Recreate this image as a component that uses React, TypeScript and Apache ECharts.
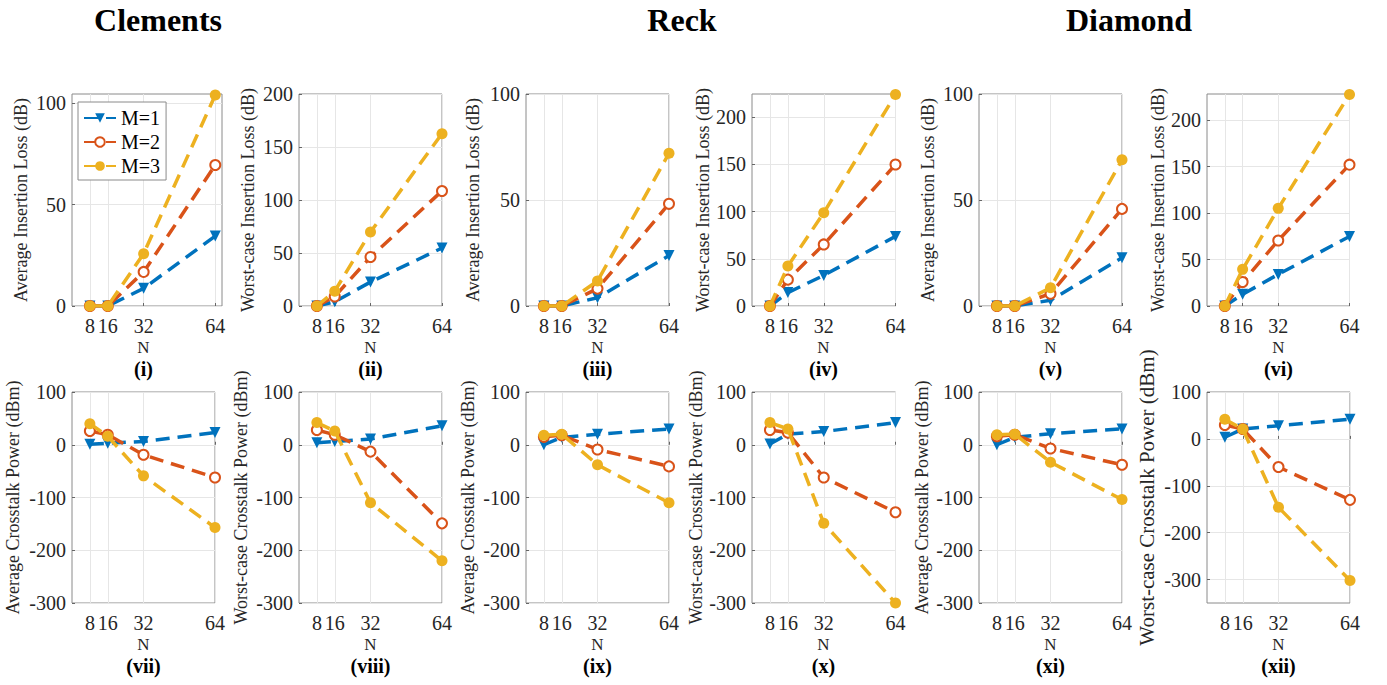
import React, { useEffect, useRef } from 'react';
import * as echarts from 'echarts';

const FONT = 'Liberation Serif';

const N = [8, 16, 32, 64];
const seriesNames = ['M=1', 'M=2', 'M=3'];
const colors = ['#0072BD', '#D95319', '#EDB120'];
const columnTitles = ['Clements', 'Reck', 'Diamond'];

// Top row: insertion loss (dB)
const clementsAvgIL_M1 = [0, 0, 8.7, 34.5];
const clementsAvgIL_M2 = [0, 0, 16.8, 69.5];
const clementsAvgIL_M3 = [0, 0, 25.8, 104];

const clementsWcIL_M1 = [0, 4, 22.6, 54.7];
const clementsWcIL_M2 = [0, 9, 46.2, 108.5];
const clementsWcIL_M3 = [0, 14, 69.8, 162.6];

const reckAvgIL_M1 = [0, 0, 3.9, 23.8];
const reckAvgIL_M2 = [0, 0, 8.2, 48.2];
const reckAvgIL_M3 = [0, 0, 11.8, 72];

const reckWcIL_M1 = [0, 14.2, 32.4, 73.7];
const reckWcIL_M2 = [0, 27.9, 65.2, 149.8];
const reckWcIL_M3 = [0, 42.3, 98.7, 224];

const diamondAvgIL_M1 = [0, 0, 2.7, 22.8];
const diamondAvgIL_M2 = [0, 0, 5.8, 45.8];
const diamondAvgIL_M3 = [0, 0, 8.6, 69];

const diamondWcIL_M1 = [0, 12.6, 34, 74.8];
const diamondWcIL_M2 = [0, 25.8, 70.5, 152];
const diamondWcIL_M3 = [0, 39.4, 105, 227.5];

// Bottom row: crosstalk power (dBm)
const clementsAvgXT_M1 = [1, 3, 6, 23];
const clementsAvgXT_M2 = [26, 19, -19, -62];
const clementsAvgXT_M3 = [40, 16, -59, -157];

const clementsWcXT_M1 = [4, 6, 11, 36];
const clementsWcXT_M2 = [28, 19, -13, -149];
const clementsWcXT_M3 = [42, 26, -110, -220];

const reckAvgXT_M1 = [0, 14, 20, 30];
const reckAvgXT_M2 = [15, 18, -9, -41];
const reckAvgXT_M3 = [18, 20, -38, -110];

const reckWcXT_M1 = [1.5, 20, 25, 42];
const reckWcXT_M2 = [28, 23, -62, -128];
const reckWcXT_M3 = [42, 30, -149, -300];

const diamondAvgXT_M1 = [0, 14, 21, 30];
const diamondAvgXT_M2 = [16, 19, -7, -38];
const diamondAvgXT_M3 = [19, 20, -33, -104];

const diamondWcXT_M1 = [3.5, 21, 28, 42];
const diamondWcXT_M2 = [29.5, 21, -60, -130];
const diamondWcXT_M3 = [42, 21, -146, -302];

const avgILTicks = [0, 50, 100];
const wcILTicks = [0, 50, 100, 150, 200];
const xtTicks = [-300, -200, -100, 0, 100];

const panels = [
  { label: '(i)', yName: 'Average Insertion Loss (dB)', data: [clementsAvgIL_M1, clementsAvgIL_M2, clementsAvgIL_M3], yMin: 0, yMax: 104.5, ticks: avgILTicks, left: 72, top: 94, width: 150, height: 212, xMax: 67, nameGap: 42 },
  { label: '(ii)', yName: 'Worst-case Insertion Loss (dB)', data: [clementsWcIL_M1, clementsWcIL_M2, clementsWcIL_M3], yMin: 0, yMax: 200, ticks: wcILTicks, left: 299, top: 94, width: 143, height: 212, xMax: 64, nameGap: 42 },
  { label: '(iii)', yName: 'Average Insertion Loss (dB)', data: [reckAvgIL_M1, reckAvgIL_M2, reckAvgIL_M3], yMin: 0, yMax: 100, ticks: avgILTicks, left: 526, top: 94, width: 143, height: 212, xMax: 64, nameGap: 44 },
  { label: '(iv)', yName: 'Worst-case Insertion Loss (dB)', data: [reckWcIL_M1, reckWcIL_M2, reckWcIL_M3], yMin: 0, yMax: 224.5, ticks: wcILTicks, left: 752, top: 94, width: 143.5, height: 212, xMax: 64, nameGap: 40 },
  { label: '(v)', yName: 'Average Insertion Loss (dB)', data: [diamondAvgIL_M1, diamondAvgIL_M2, diamondAvgIL_M3], yMin: 0, yMax: 100, ticks: avgILTicks, left: 979, top: 94, width: 143, height: 212, xMax: 64, nameGap: 42 },
  { label: '(vi)', yName: 'Worst-case Insertion Loss (dB)', data: [diamondWcIL_M1, diamondWcIL_M2, diamondWcIL_M3], yMin: 0, yMax: 228, ticks: wcILTicks, left: 1207, top: 94, width: 142.5, height: 212, xMax: 64, nameGap: 40 },
  { label: '(vii)', yName: 'Average Crosstalk Power (dBm)', data: [clementsAvgXT_M1, clementsAvgXT_M2, clementsAvgXT_M3], yMin: -300, yMax: 100, ticks: xtTicks, left: 72, top: 392, width: 143, height: 211, xMax: 64, nameGap: 50 },
  { label: '(viii)', yName: 'Worst-case Crosstalk Power (dBm)', data: [clementsWcXT_M1, clementsWcXT_M2, clementsWcXT_M3], yMin: -300, yMax: 100, ticks: xtTicks, left: 299, top: 392, width: 143, height: 211, xMax: 64, nameGap: 49 },
  { label: '(ix)', yName: 'Average Crosstalk Power (dBm)', data: [reckAvgXT_M1, reckAvgXT_M2, reckAvgXT_M3], yMin: -300, yMax: 100, ticks: xtTicks, left: 526, top: 392, width: 143, height: 211, xMax: 64, nameGap: 49 },
  { label: '(x)', yName: 'Worst-case Crosstalk Power (dBm)', data: [reckWcXT_M1, reckWcXT_M2, reckWcXT_M3], yMin: -300, yMax: 100, ticks: xtTicks, left: 752, top: 392, width: 143.5, height: 211, xMax: 64, nameGap: 47 },
  { label: '(xi)', yName: 'Average Crosstalk Power (dBm)', data: [diamondAvgXT_M1, diamondAvgXT_M2, diamondAvgXT_M3], yMin: -300, yMax: 100, ticks: xtTicks, left: 979, top: 392, width: 143, height: 211, xMax: 64, nameGap: 48 },
  { label: '(xii)', yName: 'Worst-case Crosstalk Power (dBm)', data: [diamondWcXT_M1, diamondWcXT_M2, diamondWcXT_M3], yMin: -350, yMax: 100, ticks: [-300, -200, -100, 0, 100], left: 1207, top: 392, width: 143, height: 211, xMax: 64, nameGap: 50, nameSize: 21 },
];

const symbols = [
  { symbol: 'triangle', symbolRotate: 180, symbolSize: 11, itemStyle: { color: colors[0] } },
  { symbol: 'emptyCircle', symbolRotate: 0, symbolSize: 10, itemStyle: { color: colors[1], borderWidth: 2.5 } },
  { symbol: 'circle', symbolRotate: 0, symbolSize: 11, itemStyle: { color: colors[2] } },
];

function buildOption() {
  const grid: any[] = [];
  const xAxis: any[] = [];
  const yAxis: any[] = [];
  const series: any[] = [];
  const graphic: any[] = [];

  panels.forEach((p, i) => {
    grid.push({ left: p.left, top: p.top, width: p.width, height: p.height, show: true, borderColor: '#8a8a8a', borderWidth: 1, backgroundColor: '#fff' });
    xAxis.push({
      gridIndex: i, type: 'value', min: 0, max: p.xMax,
      axisLine: { show: false },
      axisTick: { show: true, inside: true, length: 3, customValues: N, lineStyle: { color: '#666' } },
      axisLabel: { customValues: N, fontSize: 20, fontFamily: FONT, color: '#262626', margin: 10 },
      splitLine: { show: true, lineStyle: { color: '#e6e6e6', width: 1 } },
    });
    yAxis.push({
      gridIndex: i, type: 'value', min: p.yMin, max: p.yMax,
      name: p.yName, nameLocation: 'middle', nameGap: p.nameGap,
      nameTextStyle: { fontSize: p.nameSize || 18, fontFamily: FONT, color: '#262626' },
      axisLine: { show: false },
      axisTick: { show: true, inside: true, length: 3, customValues: p.ticks, lineStyle: { color: '#666' } },
      axisLabel: { customValues: p.ticks, fontSize: 20, fontFamily: FONT, color: '#262626', margin: 6 },
      splitLine: { show: true, lineStyle: { color: '#e6e6e6', width: 1 } },
    });
    p.data.forEach((vals, k) => {
      series.push({
        name: seriesNames[k], type: 'line', xAxisIndex: i, yAxisIndex: i,
        data: N.map((n, j) => [n, vals[j]]),
        symbol: symbols[k].symbol, symbolRotate: symbols[k].symbolRotate, symbolSize: symbols[k].symbolSize,
        itemStyle: symbols[k].itemStyle,
        lineStyle: { color: colors[k], width: 3.5, type: [14, 8] },
        z: 2 + k,
      });
    });
    const cx = p.left + 143 / 2;
    const baseY = p.top + p.height;
    graphic.push({ type: 'text', z: 100, style: { text: 'N', x: cx, y: baseY + 41, textAlign: 'center', textVerticalAlign: 'middle', font: `17px ${FONT}`, fill: '#262626' } });
    graphic.push({ type: 'text', z: 100, style: { text: p.label, x: cx, y: baseY + 63, textAlign: 'center', textVerticalAlign: 'middle', font: `bold 20px ${FONT}`, fill: '#000' } });
  });

  const titleX = [158, 682, 1129];
  columnTitles.forEach((t, i) => {
    graphic.push({ type: 'text', z: 100, style: { text: t, x: titleX[i], y: 20, textAlign: 'center', textVerticalAlign: 'middle', font: `bold 32px ${FONT}`, fill: '#000' } });
  });

  return {
    animation: false,
    backgroundColor: '#fff',
    color: colors,
    textStyle: { fontFamily: FONT },
    grid, xAxis, yAxis, series, graphic,
    legend: {
      data: seriesNames, orient: 'vertical', left: 78, top: 102,
      backgroundColor: '#fff', borderColor: '#8a8a8a', borderWidth: 1,
      padding: [6, 6, 4, 5], itemGap: 4, itemWidth: 32, itemHeight: 12,
      textStyle: { fontSize: 20, fontFamily: FONT, color: '#000' },
      z: 50,
    },
  };
}

export default function App() {
  const ref = useRef<HTMLDivElement>(null);
  useEffect(() => {
    document.body.style.margin = '0';
    const chart = echarts.init(ref.current!, null, { renderer: 'svg' });
    chart.setOption(buildOption() as any);
    return () => chart.dispose();
  }, []);
  return <div ref={ref} style={{ width: 1387, height: 685 }} />;
}
